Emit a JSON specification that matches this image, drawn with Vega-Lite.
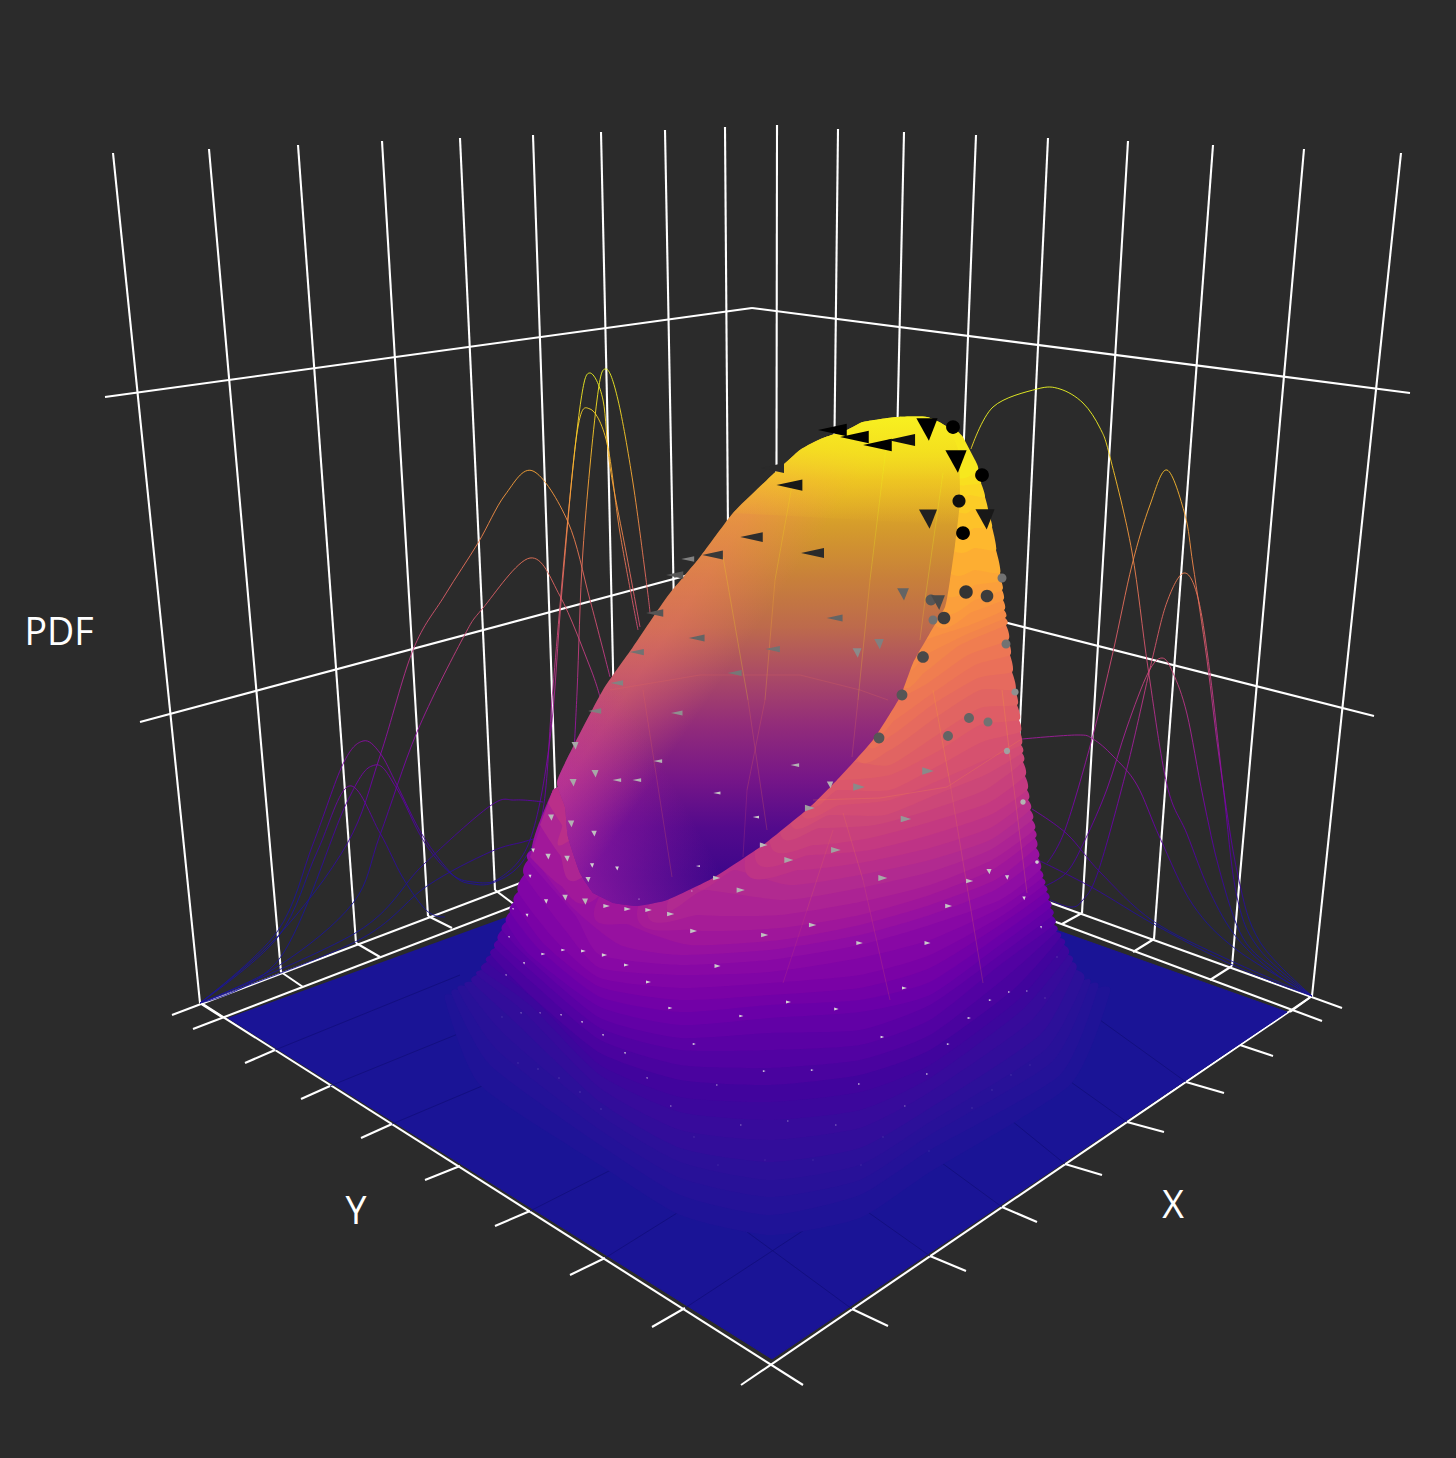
{"$schema":"https://vega.github.io/schema/vega-lite/v6.json","width":1456,"height":1458,"padding":0,"autosize":{"type":"fit","contains":"padding"},"background":"#2b2b2b","config":{"view":{"stroke":null}},
"resolve":{"scale":{"color":"independent"}},
"datasets":{
"grid":[{"x":113,"y":153,"x2":200,"y2":1003},{"x":209,"y":149,"x2":281,"y2":972},{"x":298,"y":145,"x2":356,"y2":943},{"x":382,"y":141,"x2":428,"y2":916},{"x":460,"y":138,"x2":495,"y2":890},{"x":533,"y":135,"x2":558,"y2":868},{"x":601,"y":132,"x2":617,"y2":845},{"x":665,"y":130,"x2":678,"y2":825},{"x":725,"y":127,"x2":730,"y2":805},{"x":777,"y":125,"x2":776,"y2":805},{"x":838,"y":129,"x2":830,"y2":825},{"x":904,"y":132,"x2":888,"y2":845},{"x":976,"y":135,"x2":947,"y2":868},{"x":1048,"y":138,"x2":1012,"y2":889},{"x":1128,"y":141,"x2":1082,"y2":913},{"x":1213,"y":145,"x2":1154,"y2":939},{"x":1304,"y":149,"x2":1232,"y2":966},{"x":1401,"y":153,"x2":1312,"y2":996},{"x":105,"y":397,"x2":752,"y2":308},{"x":752,"y":308,"x2":1410,"y2":393},{"x":140,"y":722,"x2":752,"y2":558},{"x":1374,"y":716,"x2":752,"y2":558},{"x":172,"y":1015,"x2":752,"y2":795},{"x":1342,"y":1008,"x2":752,"y2":795},{"x":193,"y":1029,"x2":760,"y2":812},{"x":1322,"y":1021,"x2":760,"y2":812},{"x":200,"y":1003,"x2":222,"y2":1017},{"x":281,"y":972,"x2":303,"y2":987},{"x":356,"y":943,"x2":380,"y2":957},{"x":428,"y":916,"x2":452,"y2":928},{"x":495,"y":890,"x2":515,"y2":905},{"x":1082,"y":913,"x2":1062,"y2":924},{"x":1154,"y":939,"x2":1133,"y2":952},{"x":1232,"y":966,"x2":1210,"y2":980},{"x":1312,"y":996,"x2":1290,"y2":1012},{"x":201,"y":1003,"x2":803,"y2":1385},{"x":741,"y":1385,"x2":1312,"y2":996},{"x":275,"y":1050,"x2":245,"y2":1063},{"x":330,"y":1086,"x2":301,"y2":1099},{"x":392,"y":1124,"x2":361,"y2":1138},{"x":460,"y":1166,"x2":425,"y2":1180},{"x":530,"y":1211,"x2":495,"y2":1226},{"x":605,"y":1258,"x2":570,"y2":1275},{"x":685,"y":1308,"x2":652,"y2":1327},{"x":852,"y":1309,"x2":888,"y2":1326},{"x":930,"y":1256,"x2":966,"y2":1271},{"x":1002,"y":1207,"x2":1037,"y2":1222},{"x":1065,"y":1164,"x2":1102,"y2":1175},{"x":1127,"y":1122,"x2":1164,"y2":1132},{"x":1186,"y":1082,"x2":1224,"y2":1093},{"x":1240,"y":1045,"x2":1273,"y2":1056}],
"floor":[{"v":0,"x":228,"y":1018},{"v":0,"x":772,"y":1359},{"v":0,"x":1287,"y":1012},{"v":0,"x":760,"y":825}],
"floorlines":[{"x":275,"y":1050,"x2":460,"y2":975},{"x":330,"y":1086,"x2":480,"y2":1025},{"x":392,"y":1124,"x2":520,"y2":1070},{"x":530,"y":1211,"x2":680,"y2":1135},{"x":605,"y":1258,"x2":770,"y2":1155},{"x":685,"y":1308,"x2":850,"y2":1200},{"x":852,"y":1309,"x2":690,"y2":1190},{"x":930,"y":1256,"x2":780,"y2":1150},{"x":1002,"y":1207,"x2":890,"y2":1125},{"x":1127,"y":1122,"x2":1040,"y2":1060},{"x":1186,"y":1082,"x2":1100,"y2":1020},{"x":1065,"y":1164,"x2":980,"y2":1095}],
"D":[{"x":200,"y":1003},{"x":277,"y":937},{"x":347,"y":844},{"x":380,"y":756},{"x":413,"y":650},{"x":445,"y":595},{"x":478,"y":543},{"x":505,"y":495},{"x":533,"y":471},{"x":568,"y":522},{"x":590,"y":600},{"x":610,"y":677}],
"E":[{"x":200,"y":1003},{"x":280,"y":965},{"x":353,"y":903},{"x":380,"y":835},{"x":417,"y":732},{"x":463,"y":638},{"x":483,"y":608},{"x":530,"y":558},{"x":560,"y":596},{"x":590,"y":667},{"x":600,"y":697}],
"A":[{"x":200,"y":1003},{"x":277,"y":932},{"x":313,"y":844},{"x":343,"y":764},{"x":363,"y":741},{"x":380,"y":753},{"x":397,"y":785},{"x":423,"y":836},{"x":453,"y":875},{"x":473,"y":884},{"x":495,"y":882},{"x":523,"y":861},{"x":543,"y":810},{"x":553,"y":687},{"x":568,"y":517},{"x":581,"y":400},{"x":590,"y":373},{"x":603,"y":400},{"x":610,"y":467},{"x":627,"y":557},{"x":640,"y":627}],
"B":[{"x":200,"y":1003},{"x":280,"y":958},{"x":347,"y":802},{"x":375,"y":765},{"x":397,"y":789},{"x":423,"y":840},{"x":450,"y":873},{"x":473,"y":882},{"x":500,"y":878},{"x":530,"y":840},{"x":550,"y":739},{"x":562,"y":590},{"x":577,"y":433},{"x":590,"y":409},{"x":607,"y":443},{"x":620,"y":533},{"x":638,"y":630}],
"C":[{"x":200,"y":1003},{"x":278,"y":937},{"x":317,"y":852},{"x":349,"y":786},{"x":380,"y":833},{"x":403,"y":878},{"x":427,"y":911},{"x":445,"y":917}],
"T":[{"x":572,"y":790},{"x":577,"y":693},{"x":583,"y":550},{"x":597,"y":400},{"x":606,"y":369},{"x":618,"y":400},{"x":633,"y":483},{"x":647,"y":587},{"x":650,"y":613}],
"F":[{"x":200,"y":1003},{"x":357,"y":932},{"x":423,"y":865},{"x":490,"y":806},{"x":515,"y":800},{"x":543,"y":802}],
"G":[{"x":200,"y":1003},{"x":357,"y":941},{"x":427,"y":886},{"x":490,"y":852},{"x":523,"y":842},{"x":537,"y":838}],
"R1":[{"x":971,"y":449},{"x":993,"y":407},{"x":1037,"y":389},{"x":1060,"y":389},{"x":1083,"y":403},{"x":1100,"y":428},{"x":1110,"y":457},{"x":1132,"y":552},{"x":1148,"y":668},{"x":1167,"y":785},{"x":1187,"y":834},{"x":1210,"y":892},{"x":1237,"y":938},{"x":1277,"y":975},{"x":1312,"y":996}],
"R2":[{"x":1047,"y":863},{"x":1065,"y":830},{"x":1092,"y":739},{"x":1113,"y":652},{"x":1132,"y":565},{"x":1150,"y":505},{"x":1167,"y":470},{"x":1185,"y":515},{"x":1193,"y":565},{"x":1207,"y":660},{"x":1220,"y":764},{"x":1238,"y":876},{"x":1260,"y":942},{"x":1312,"y":996}],
"R3":[{"x":1050,"y":900},{"x":1070,"y":907},{"x":1082,"y":901},{"x":1098,"y":872},{"x":1127,"y":768},{"x":1152,"y":660},{"x":1167,"y":602},{"x":1184,"y":573},{"x":1198,"y":598},{"x":1210,"y":673},{"x":1223,"y":785},{"x":1237,"y":897},{"x":1260,"y":950},{"x":1312,"y":996}],
"R4":[{"x":1045,"y":886},{"x":1067,"y":872},{"x":1085,"y":840},{"x":1107,"y":789},{"x":1127,"y":727},{"x":1148,"y":673},{"x":1162,"y":658},{"x":1173,"y":673},{"x":1187,"y":714},{"x":1203,"y":797},{"x":1220,"y":872},{"x":1243,"y":938},{"x":1277,"y":971},{"x":1312,"y":996}],
"R5":[{"x":1022,"y":739},{"x":1077,"y":735},{"x":1093,"y":739},{"x":1113,"y":756},{"x":1137,"y":785},{"x":1160,"y":838},{"x":1193,"y":905},{"x":1237,"y":950},{"x":1312,"y":996}],
"R6":[{"x":1032,"y":809},{"x":1067,"y":834},{"x":1100,"y":872},{"x":1153,"y":921},{"x":1227,"y":959},{"x":1312,"y":996}],
"R7":[{"x":1040,"y":861},{"x":1093,"y":888},{"x":1157,"y":926},{"x":1237,"y":967},{"x":1312,"y":996}],
"bands":[
{"v":0.01,"x":1098,"y":988},{"v":0.01,"x":1110,"y":992},{"v":0.01,"x":1070,"y":1085},{"v":0.01,"x":930,"y":1172},{"v":0.01,"x":860,"y":1218},{"v":0.01,"x":770,"y":1235},{"v":0.01,"x":680,"y":1215},{"v":0.01,"x":600,"y":1165},{"v":0.01,"x":480,"y":1085},{"v":0.01,"x":445,"y":1000},{"v":0.01,"x":452,"y":995},
{"v":0.02,"x":1090,"y":984},{"v":0.02,"x":1098,"y":988},{"v":0.02,"x":1060,"y":1075},{"v":0.02,"x":930,"y":1150},{"v":0.02,"x":860,"y":1195},{"v":0.02,"x":770,"y":1215},{"v":0.02,"x":680,"y":1195},{"v":0.02,"x":600,"y":1145},{"v":0.02,"x":490,"y":1065},{"v":0.02,"x":452,"y":995},{"v":0.02,"x":458,"y":990},
{"v":0.03,"x":1084,"y":980},{"v":0.03,"x":1090,"y":984},{"v":0.03,"x":1052,"y":1062},{"v":0.03,"x":930,"y":1135},{"v":0.03,"x":860,"y":1180},{"v":0.03,"x":770,"y":1197},{"v":0.03,"x":680,"y":1178},{"v":0.03,"x":600,"y":1130},{"v":0.03,"x":497,"y":1050},{"v":0.03,"x":458,"y":990},{"v":0.03,"x":465,"y":986},
{"v":0.04,"x":1076,"y":970},{"v":0.04,"x":1084,"y":980},{"v":0.04,"x":1045,"y":1050},{"v":0.04,"x":930,"y":1122},{"v":0.04,"x":860,"y":1165},{"v":0.04,"x":770,"y":1180},{"v":0.04,"x":680,"y":1162},{"v":0.04,"x":600,"y":1115},{"v":0.04,"x":505,"y":1035},{"v":0.04,"x":465,"y":986},{"v":0.04,"x":472,"y":982},
{"v":0.055,"x":1072,"y":962},{"v":0.055,"x":1076,"y":970},{"v":0.055,"x":1040,"y":1035},{"v":0.055,"x":930,"y":1108},{"v":0.055,"x":860,"y":1148},{"v":0.055,"x":770,"y":1162},{"v":0.055,"x":680,"y":1148},{"v":0.055,"x":600,"y":1102},{"v":0.055,"x":515,"y":1022},{"v":0.055,"x":472,"y":982},{"v":0.055,"x":477,"y":975},
{"v":0.07,"x":1068,"y":955},{"v":0.07,"x":1072,"y":962},{"v":0.07,"x":1030,"y":1022},{"v":0.07,"x":930,"y":1092},{"v":0.07,"x":860,"y":1128},{"v":0.07,"x":770,"y":1140},{"v":0.07,"x":680,"y":1130},{"v":0.07,"x":600,"y":1088},{"v":0.07,"x":522,"y":1010},{"v":0.07,"x":477,"y":975},{"v":0.07,"x":482,"y":970},
{"v":0.085,"x":1064,"y":945},{"v":0.085,"x":1068,"y":955},{"v":0.085,"x":1022,"y":1010},{"v":0.085,"x":930,"y":1078},{"v":0.085,"x":860,"y":1110},{"v":0.085,"x":770,"y":1120},{"v":0.085,"x":680,"y":1112},{"v":0.085,"x":600,"y":1075},{"v":0.085,"x":530,"y":1005},{"v":0.085,"x":482,"y":970},{"v":0.085,"x":487,"y":962},
{"v":0.1,"x":1060,"y":938},{"v":0.1,"x":1064,"y":945},{"v":0.1,"x":1018,"y":1000},{"v":0.1,"x":930,"y":1065},{"v":0.1,"x":860,"y":1092},{"v":0.1,"x":770,"y":1102},{"v":0.1,"x":680,"y":1097},{"v":0.1,"x":600,"y":1065},{"v":0.1,"x":535,"y":1000},{"v":0.1,"x":487,"y":962},{"v":0.1,"x":491,"y":955},
{"v":0.12,"x":1056,"y":932},{"v":0.12,"x":1060,"y":938},{"v":0.12,"x":1013,"y":990},{"v":0.12,"x":930,"y":1050},{"v":0.12,"x":860,"y":1075},{"v":0.12,"x":770,"y":1085},{"v":0.12,"x":680,"y":1080},{"v":0.12,"x":600,"y":1053},{"v":0.12,"x":530,"y":995},{"v":0.12,"x":491,"y":955},{"v":0.12,"x":495,"y":948},
{"v":0.14,"x":1054,"y":925},{"v":0.14,"x":1056,"y":932},{"v":0.14,"x":1005,"y":978},{"v":0.14,"x":930,"y":1035},{"v":0.14,"x":860,"y":1060},{"v":0.14,"x":770,"y":1068},{"v":0.14,"x":680,"y":1065},{"v":0.14,"x":600,"y":1040},{"v":0.14,"x":535,"y":985},{"v":0.14,"x":495,"y":948},{"v":0.14,"x":498,"y":940},
{"v":0.16,"x":1052,"y":916},{"v":0.16,"x":1054,"y":925},{"v":0.16,"x":1000,"y":965},{"v":0.16,"x":930,"y":1020},{"v":0.16,"x":860,"y":1045},{"v":0.16,"x":770,"y":1050},{"v":0.16,"x":680,"y":1050},{"v":0.16,"x":600,"y":1028},{"v":0.16,"x":530,"y":970},{"v":0.16,"x":498,"y":940},{"v":0.16,"x":502,"y":930},
{"v":0.18,"x":1050,"y":908},{"v":0.18,"x":1052,"y":916},{"v":0.18,"x":1000,"y":955},{"v":0.18,"x":930,"y":1005},{"v":0.18,"x":860,"y":1030},{"v":0.18,"x":770,"y":1033},{"v":0.18,"x":680,"y":1038},{"v":0.18,"x":600,"y":1018},{"v":0.18,"x":530,"y":960},{"v":0.18,"x":502,"y":930},{"v":0.18,"x":506,"y":922},
{"v":0.2,"x":1048,"y":900},{"v":0.2,"x":1050,"y":908},{"v":0.2,"x":1000,"y":945},{"v":0.2,"x":930,"y":995},{"v":0.2,"x":860,"y":1012},{"v":0.2,"x":770,"y":1018},{"v":0.2,"x":680,"y":1025},{"v":0.2,"x":600,"y":1007},{"v":0.2,"x":530,"y":955},{"v":0.2,"x":506,"y":922},{"v":0.2,"x":510,"y":912},
{"v":0.22,"x":1046,"y":892},{"v":0.22,"x":1048,"y":900},{"v":0.22,"x":1000,"y":935},{"v":0.22,"x":930,"y":982},{"v":0.22,"x":860,"y":1000},{"v":0.22,"x":770,"y":1005},{"v":0.22,"x":680,"y":1012},{"v":0.22,"x":600,"y":997},{"v":0.22,"x":540,"y":950},{"v":0.22,"x":510,"y":912},{"v":0.22,"x":514,"y":902},
{"v":0.24,"x":1044,"y":885},{"v":0.24,"x":1046,"y":892},{"v":0.24,"x":1000,"y":925},{"v":0.24,"x":930,"y":968},{"v":0.24,"x":860,"y":988},{"v":0.24,"x":770,"y":995},{"v":0.24,"x":680,"y":1000},{"v":0.24,"x":600,"y":987},{"v":0.24,"x":545,"y":945},{"v":0.24,"x":514,"y":902},{"v":0.24,"x":518,"y":892},
{"v":0.26,"x":1042,"y":878},{"v":0.26,"x":1044,"y":885},{"v":0.26,"x":1000,"y":917},{"v":0.26,"x":930,"y":955},{"v":0.26,"x":860,"y":975},{"v":0.26,"x":770,"y":983},{"v":0.26,"x":680,"y":988},{"v":0.26,"x":600,"y":978},{"v":0.26,"x":555,"y":940},{"v":0.26,"x":518,"y":892},{"v":0.26,"x":524,"y":875},
{"v":0.28,"x":1040,"y":870},{"v":0.28,"x":1042,"y":878},{"v":0.28,"x":1000,"y":908},{"v":0.28,"x":930,"y":940},{"v":0.28,"x":860,"y":958},{"v":0.28,"x":770,"y":972},{"v":0.28,"x":680,"y":975},{"v":0.28,"x":600,"y":968},{"v":0.28,"x":565,"y":930},{"v":0.28,"x":524,"y":875},{"v":0.28,"x":528,"y":860},
{"v":0.3,"x":1038,"y":858},{"v":0.3,"x":1040,"y":870},{"v":0.3,"x":1000,"y":900},{"v":0.3,"x":930,"y":925},{"v":0.3,"x":860,"y":945},{"v":0.3,"x":770,"y":960},{"v":0.3,"x":680,"y":965},{"v":0.3,"x":600,"y":955},{"v":0.3,"x":575,"y":915},{"v":0.3,"x":528,"y":860},{"v":0.3,"x":532,"y":850},
{"v":0.32,"x":1036,"y":848},{"v":0.32,"x":1038,"y":858},{"v":0.32,"x":995,"y":890},{"v":0.32,"x":930,"y":915},{"v":0.32,"x":860,"y":935},{"v":0.32,"x":770,"y":950},{"v":0.32,"x":680,"y":955},{"v":0.32,"x":620,"y":945},{"v":0.32,"x":570,"y":905},{"v":0.32,"x":532,"y":850},{"v":0.32,"x":553,"y":790},
{"v":0.34,"x":1035,"y":838},{"v":0.34,"x":1036,"y":848},{"v":0.34,"x":995,"y":880},{"v":0.34,"x":930,"y":905},{"v":0.34,"x":860,"y":925},{"v":0.34,"x":780,"y":940},{"v":0.34,"x":690,"y":945},{"v":0.34,"x":630,"y":925},{"v":0.34,"x":600,"y":895},{"v":0.34,"x":850,"y":500},
{"v":0.345,"x":530,"y":857},{"v":0.345,"x":560,"y":885},{"v":0.345,"x":600,"y":895},{"v":0.345,"x":800,"y":650},{"v":0.345,"x":553,"y":790},
{"v":0.36,"x":1034,"y":830},{"v":0.36,"x":1035,"y":838},{"v":0.36,"x":992,"y":870},{"v":0.36,"x":930,"y":895},{"v":0.36,"x":860,"y":915},{"v":0.36,"x":780,"y":928},{"v":0.36,"x":690,"y":930},{"v":0.36,"x":640,"y":900},{"v":0.36,"x":850,"y":500},
{"v":0.38,"x":1032,"y":820},{"v":0.38,"x":1034,"y":830},{"v":0.38,"x":992,"y":860},{"v":0.38,"x":930,"y":885},{"v":0.38,"x":860,"y":902},{"v":0.38,"x":780,"y":915},{"v":0.38,"x":700,"y":915},{"v":0.38,"x":650,"y":900},{"v":0.38,"x":850,"y":500},
{"v":0.385,"x":540,"y":825},{"v":0.385,"x":560,"y":855},{"v":0.385,"x":585,"y":875},{"v":0.385,"x":800,"y":650},{"v":0.385,"x":553,"y":790},
{"v":0.4,"x":1030,"y":810},{"v":0.4,"x":1032,"y":820},{"v":0.4,"x":990,"y":850},{"v":0.4,"x":930,"y":872},{"v":0.4,"x":860,"y":888},{"v":0.4,"x":785,"y":900},{"v":0.4,"x":705,"y":890},{"v":0.4,"x":670,"y":895},{"v":0.4,"x":850,"y":500},
{"v":0.42,"x":1028,"y":800},{"v":0.42,"x":1030,"y":810},{"v":0.42,"x":990,"y":840},{"v":0.42,"x":930,"y":860},{"v":0.42,"x":860,"y":875},{"v":0.42,"x":790,"y":885},{"v":0.42,"x":735,"y":870},{"v":0.42,"x":700,"y":875},{"v":0.42,"x":850,"y":500},
{"v":0.425,"x":548,"y":803},{"v":0.425,"x":562,"y":825},{"v":0.425,"x":570,"y":840},{"v":0.425,"x":800,"y":650},{"v":0.425,"x":553,"y":790},
{"v":0.44,"x":1027,"y":790},{"v":0.44,"x":1028,"y":800},{"v":0.44,"x":990,"y":828},{"v":0.44,"x":930,"y":848},{"v":0.44,"x":865,"y":862},{"v":0.44,"x":800,"y":870},{"v":0.44,"x":745,"y":860},{"v":0.44,"x":850,"y":500},
{"v":0.46,"x":1025,"y":776},{"v":0.46,"x":1027,"y":790},{"v":0.46,"x":990,"y":815},{"v":0.46,"x":930,"y":835},{"v":0.46,"x":870,"y":850},{"v":0.46,"x":810,"y":855},{"v":0.46,"x":755,"y":850},{"v":0.46,"x":850,"y":500},
{"v":0.48,"x":1023,"y":762},{"v":0.48,"x":1025,"y":776},{"v":0.48,"x":988,"y":803},{"v":0.48,"x":930,"y":822},{"v":0.48,"x":870,"y":838},{"v":0.48,"x":815,"y":845},{"v":0.48,"x":770,"y":835},{"v":0.48,"x":850,"y":500},
{"v":0.5,"x":1022,"y":753},{"v":0.5,"x":1023,"y":762},{"v":0.5,"x":985,"y":790},{"v":0.5,"x":930,"y":810},{"v":0.5,"x":875,"y":825},{"v":0.5,"x":820,"y":828},{"v":0.5,"x":780,"y":825},{"v":0.5,"x":850,"y":500},
{"v":0.52,"x":1021,"y":745},{"v":0.52,"x":1022,"y":753},{"v":0.52,"x":985,"y":775},{"v":0.52,"x":935,"y":795},{"v":0.52,"x":885,"y":815},{"v":0.52,"x":830,"y":815},{"v":0.52,"x":790,"y":815},{"v":0.52,"x":850,"y":500},
{"v":0.54,"x":1020,"y":732},{"v":0.54,"x":1021,"y":745},{"v":0.54,"x":985,"y":760},{"v":0.54,"x":940,"y":780},{"v":0.54,"x":890,"y":800},{"v":0.54,"x":840,"y":805},{"v":0.54,"x":800,"y":805},{"v":0.54,"x":850,"y":500},
{"v":0.56,"x":1019,"y":720},{"v":0.56,"x":1020,"y":732},{"v":0.56,"x":982,"y":742},{"v":0.56,"x":940,"y":765},{"v":0.56,"x":890,"y":790},{"v":0.56,"x":838,"y":790},{"v":0.56,"x":812,"y":795},{"v":0.56,"x":850,"y":500},
{"v":0.58,"x":1017,"y":705},{"v":0.58,"x":1019,"y":720},{"v":0.58,"x":980,"y":725},{"v":0.58,"x":940,"y":750},{"v":0.58,"x":890,"y":775},{"v":0.58,"x":840,"y":780},{"v":0.58,"x":825,"y":775},{"v":0.58,"x":850,"y":500},
{"v":0.6,"x":1015,"y":690},{"v":0.6,"x":1017,"y":705},{"v":0.6,"x":980,"y":708},{"v":0.6,"x":937,"y":735},{"v":0.6,"x":890,"y":765},{"v":0.6,"x":855,"y":762},{"v":0.6,"x":835,"y":765},{"v":0.6,"x":850,"y":500},
{"v":0.62,"x":1012,"y":672},{"v":0.62,"x":1015,"y":690},{"v":0.62,"x":980,"y":690},{"v":0.62,"x":935,"y":718},{"v":0.62,"x":890,"y":750},{"v":0.62,"x":855,"y":752},{"v":0.62,"x":850,"y":500},
{"v":0.64,"x":1010,"y":655},{"v":0.64,"x":1012,"y":672},{"v":0.64,"x":978,"y":678},{"v":0.64,"x":932,"y":705},{"v":0.64,"x":892,"y":735},{"v":0.64,"x":865,"y":738},{"v":0.64,"x":850,"y":500},
{"v":0.66,"x":1008,"y":640},{"v":0.66,"x":1010,"y":655},{"v":0.66,"x":975,"y":665},{"v":0.66,"x":930,"y":695},{"v":0.66,"x":895,"y":720},{"v":0.66,"x":875,"y":725},{"v":0.66,"x":850,"y":500},
{"v":0.68,"x":1006,"y":625},{"v":0.68,"x":1008,"y":640},{"v":0.68,"x":968,"y":655},{"v":0.68,"x":928,"y":683},{"v":0.68,"x":897,"y":700},{"v":0.68,"x":885,"y":710},{"v":0.68,"x":850,"y":500},
{"v":0.7,"x":1005,"y":618},{"v":0.7,"x":1006,"y":625},{"v":0.7,"x":960,"y":645},{"v":0.7,"x":925,"y":672},{"v":0.7,"x":900,"y":682},{"v":0.7,"x":850,"y":500},
{"v":0.72,"x":1004,"y":610},{"v":0.72,"x":1005,"y":618},{"v":0.72,"x":965,"y":635},{"v":0.72,"x":925,"y":655},{"v":0.72,"x":905,"y":665},{"v":0.72,"x":850,"y":500},
{"v":0.74,"x":1003,"y":600},{"v":0.74,"x":1004,"y":610},{"v":0.74,"x":970,"y":625},{"v":0.74,"x":925,"y":640},{"v":0.74,"x":915,"y":650},{"v":0.74,"x":850,"y":500},
{"v":0.76,"x":1002,"y":590},{"v":0.76,"x":1003,"y":600},{"v":0.76,"x":972,"y":612},{"v":0.76,"x":935,"y":625},{"v":0.76,"x":850,"y":500},
{"v":0.78,"x":1001,"y":581},{"v":0.78,"x":1002,"y":590},{"v":0.78,"x":975,"y":600},{"v":0.78,"x":940,"y":612},{"v":0.78,"x":850,"y":500},
{"v":0.8,"x":1000,"y":573},{"v":0.8,"x":1001,"y":581},{"v":0.8,"x":975,"y":585},{"v":0.8,"x":945,"y":595},{"v":0.8,"x":850,"y":500},
{"v":0.82,"x":996,"y":550},{"v":0.82,"x":1000,"y":573},{"v":0.82,"x":975,"y":570},{"v":0.82,"x":948,"y":572},{"v":0.82,"x":850,"y":470},
{"v":0.845,"x":992,"y":527},{"v":0.845,"x":996,"y":550},{"v":0.845,"x":975,"y":548},{"v":0.845,"x":952,"y":550},{"v":0.845,"x":850,"y":470},
{"v":0.87,"x":988,"y":512},{"v":0.87,"x":992,"y":527},{"v":0.87,"x":975,"y":528},{"v":0.87,"x":955,"y":530},{"v":0.87,"x":850,"y":470},
{"v":0.895,"x":985,"y":497},{"v":0.895,"x":988,"y":512},{"v":0.895,"x":972,"y":510},{"v":0.895,"x":958,"y":512},{"v":0.895,"x":850,"y":470},
{"v":0.92,"x":981,"y":483},{"v":0.92,"x":985,"y":497},{"v":0.92,"x":970,"y":495},{"v":0.92,"x":958,"y":495},{"v":0.92,"x":850,"y":470},
{"v":0.94,"x":978,"y":470},{"v":0.94,"x":981,"y":483},{"v":0.94,"x":965,"y":485},{"v":0.94,"x":958,"y":485},{"v":0.94,"x":850,"y":470},
{"v":0.96,"x":975,"y":460},{"v":0.96,"x":978,"y":470},{"v":0.96,"x":958,"y":478},{"v":0.96,"x":900,"y":440},{"v":0.96,"x":950,"y":428},{"v":0.96,"x":963,"y":437}],
"back":[{"x":593,"y":893},{"x":580,"y":873},{"x":568,"y":837},{"x":565,"y":807},{"x":557,"y":782},{"x":573,"y":747},{"x":603,"y":690},{"x":633,"y":647},{"x":667,"y":597},{"x":700,"y":557},{"x":733,"y":513},{"x":767,"y":480},{"x":800,"y":450},{"x":823,"y":438},{"x":847,"y":430},{"x":863,"y":422},{"x":897,"y":417},{"x":927,"y":417},{"x":947,"y":427},{"x":958,"y":450},{"x":960,"y":500},{"x":955,"y":545},{"x":950,"y":580},{"x":945,"y":607},{"x":930,"y":633},{"x":913,"y":663},{"x":900,"y":697},{"x":873,"y":740},{"x":837,"y":780},{"x":810,"y":807},{"x":763,"y":845},{"x":713,"y":878},{"x":667,"y":900},{"x":637,"y":906},{"x":613,"y":903}],
"cap":[{"x":733,"y":513},{"x":767,"y":480},{"x":800,"y":450},{"x":823,"y":438},{"x":847,"y":430},{"x":863,"y":422},{"x":897,"y":417},{"x":927,"y":417},{"x":947,"y":427},{"x":958,"y":450},{"x":960,"y":500},{"x":958,"y":525}],
"mesh":[
{"c":"a","x":793,"y":480,"v":0.95},{"c":"a","x":775,"y":580,"v":0.85},{"c":"a","x":765,"y":700,"v":0.62},{"c":"a","x":747,"y":790,"v":0.5},{"c":"a","x":743,"y":857,"v":0.42},
{"c":"b","x":723,"y":557,"v":0.95},{"c":"b","x":748,"y":700,"v":0.65},{"c":"b","x":767,"y":830,"v":0.42},
{"c":"d","x":887,"y":440,"v":1},{"c":"d","x":870,"y":580,"v":0.9},{"c":"d","x":858,"y":700,"v":0.65},{"c":"d","x":852,"y":757,"v":0.5},
{"c":"e","x":943,"y":473,"v":1},{"c":"e","x":925,"y":600,"v":0.9},{"c":"e","x":920,"y":640,"v":0.8},
{"c":"f","x":610,"y":690,"v":0.62},{"c":"f","x":700,"y":675,"v":0.62},{"c":"f","x":800,"y":675,"v":0.62},{"c":"f","x":860,"y":690,"v":0.62},{"c":"f","x":888,"y":700,"v":0.62},
{"c":"g","x":1020,"y":740,"v":0.72},{"c":"g","x":947,"y":787,"v":0.72},{"c":"g","x":880,"y":798,"v":0.72},{"c":"g","x":813,"y":800,"v":0.72},
{"c":"h","x":933,"y":690,"v":0.8},{"c":"h","x":950,"y":783,"v":0.65},{"c":"h","x":983,"y":983,"v":0.35},
{"c":"i","x":1002,"y":690,"v":0.8},{"c":"i","x":1010,"y":757,"v":0.7},{"c":"i","x":1027,"y":893,"v":0.42},
{"c":"j","x":843,"y":813,"v":0.66},{"c":"j","x":863,"y":880,"v":0.55},{"c":"j","x":890,"y":1000,"v":0.35},
{"c":"k","x":833,"y":830,"v":0.6},{"c":"k","x":807,"y":910,"v":0.48},{"c":"k","x":783,"y":983,"v":0.35},
{"c":"l","x":643,"y":690,"v":0.62},{"c":"l","x":672,"y":877,"v":0.3}],
"cones":[
{"x":773,"y":468,"m":0.8,"k":"l"},{"x":790,"y":485,"m":0.9,"k":"l"},{"x":752,"y":537,"m":0.78,"k":"l"},{"x":713,"y":555,"m":0.72,"k":"l"},{"x":688,"y":559,"m":0.45,"k":"l"},{"x":675,"y":575,"m":0.6,"k":"l"},{"x":655,"y":613,"m":0.6,"k":"l"},{"x":697,"y":638,"m":0.55,"k":"l"},{"x":637,"y":652,"m":0.5,"k":"l"},{"x":773,"y":649,"m":0.5,"k":"l"},{"x":735,"y":673,"m":0.48,"k":"l"},{"x":617,"y":683,"m":0.44,"k":"l"},
{"x":833,"y":430,"m":1,"k":"l"},{"x":855,"y":437,"m":1,"k":"l"},{"x":878,"y":445,"m":1,"k":"l"},{"x":902,"y":440,"m":0.95,"k":"l"},{"x":927,"y":427,"m":1,"k":"d"},{"x":953,"y":427,"m":1,"k":"c"},{"x":956,"y":459,"m":1,"k":"d"},{"x":982,"y":475,"m":1,"k":"c"},{"x":959,"y":501,"m":0.95,"k":"c"},{"x":928,"y":517,"m":0.85,"k":"d"},{"x":985,"y":517,"m":0.9,"k":"d"},{"x":963,"y":533,"m":1,"k":"c"},{"x":813,"y":553,"m":0.8,"k":"l"},{"x":903,"y":593,"m":0.55,"k":"d"},{"x":1002,"y":578,"m":0.5,"k":"b"},{"x":931,"y":600,"m":0.6,"k":"b"},{"x":938,"y":601,"m":0.65,"k":"d"},{"x":966,"y":592,"m":0.75,"k":"b"},{"x":987,"y":596,"m":0.7,"k":"b"},{"x":835,"y":618,"m":0.55,"k":"l"},{"x":879,"y":643,"m":0.45,"k":"d"},{"x":933,"y":620,"m":0.5,"k":"b"},{"x":944,"y":618,"m":0.7,"k":"b"},{"x":857,"y":652,"m":0.42,"k":"d"},{"x":923,"y":657,"m":0.65,"k":"b"},{"x":1006,"y":644,"m":0.5,"k":"b"},{"x":902,"y":695,"m":0.6,"k":"b"},{"x":1015,"y":692,"m":0.4,"k":"b"},
{"x":595,"y":711,"m":0.45,"k":"l"},{"x":677,"y":713,"m":0.4,"k":"l"},{"x":575,"y":745,"m":0.33,"k":"d"},{"x":658,"y":761,"m":0.3,"k":"l"},{"x":595,"y":773,"m":0.33,"k":"d"},{"x":573,"y":782,"m":0.33,"k":"d"},{"x":617,"y":780,"m":0.3,"k":"l"},{"x":637,"y":780,"m":0.3,"k":"l"},{"x":795,"y":765,"m":0.3,"k":"l"},{"x":717,"y":793,"m":0.25,"k":"l"},{"x":551,"y":817,"m":0.28,"k":"d"},{"x":571,"y":823,"m":0.3,"k":"d"},{"x":594,"y":833,"m":0.26,"k":"d"},{"x":756,"y":817,"m":0.22,"k":"l"},{"x":533,"y":850,"m":0.18,"k":"d"},{"x":548,"y":856,"m":0.25,"k":"d"},{"x":567,"y":858,"m":0.26,"k":"d"},{"x":592,"y":865,"m":0.2,"k":"d"},{"x":617,"y":868,"m":0.18,"k":"d"},{"x":763,"y":845,"m":0.28,"k":"r"},{"x":788,"y":860,"m":0.33,"k":"r"},{"x":698,"y":866,"m":0.14,"k":"l"},{"x":530,"y":876,"m":0.14,"k":"d"},{"x":588,"y":879,"m":0.24,"k":"d"},{"x":716,"y":878,"m":0.26,"k":"r"},{"x":740,"y":890,"m":0.3,"k":"r"},{"x":692,"y":891,"m":0.06,"k":"r"},{"x":546,"y":901,"m":0.2,"k":"d"},{"x":565,"y":897,"m":0.26,"k":"d"},{"x":585,"y":901,"m":0.28,"k":"d"},{"x":606,"y":906,"m":0.24,"k":"r"},{"x":627,"y":909,"m":0.24,"k":"r"},{"x":648,"y":910,"m":0.24,"k":"r"},{"x":639,"y":899,"m":0.08,"k":"c"},{"x":670,"y":914,"m":0.26,"k":"r"},{"x":693,"y":931,"m":0.25,"k":"r"},{"x":764,"y":935,"m":0.26,"k":"r"},{"x":513,"y":909,"m":0.08,"k":"d"},{"x":527,"y":915,"m":0.14,"k":"d"},{"x":509,"y":937,"m":0.08,"k":"d"},{"x":543,"y":954,"m":0.15,"k":"r"},{"x":563,"y":950,"m":0.15,"k":"r"},{"x":583,"y":951,"m":0.17,"k":"r"},{"x":604,"y":955,"m":0.19,"k":"r"},{"x":626,"y":965,"m":0.18,"k":"r"},{"x":717,"y":966,"m":0.22,"k":"r"},{"x":524,"y":963,"m":0.1,"k":"d"},{"x":506,"y":975,"m":0.07,"k":"d"},{"x":648,"y":982,"m":0.18,"k":"r"},{"x":788,"y":1002,"m":0.18,"k":"r"},{"x":670,"y":1008,"m":0.15,"k":"r"},
{"x":969,"y":718,"m":0.55,"k":"b"},{"x":988,"y":722,"m":0.5,"k":"b"},{"x":879,"y":738,"m":0.6,"k":"b"},{"x":948,"y":736,"m":0.55,"k":"b"},{"x":1007,"y":751,"m":0.35,"k":"b"},{"x":927,"y":771,"m":0.42,"k":"r"},{"x":858,"y":787,"m":0.42,"k":"r"},{"x":830,"y":784,"m":0.3,"k":"d"},{"x":809,"y":808,"m":0.36,"k":"r"},{"x":1023,"y":802,"m":0.3,"k":"b"},{"x":905,"y":819,"m":0.38,"k":"r"},{"x":835,"y":850,"m":0.35,"k":"r"},{"x":882,"y":878,"m":0.33,"k":"r"},{"x":969,"y":881,"m":0.26,"k":"r"},{"x":989,"y":871,"m":0.24,"k":"d"},{"x":1007,"y":877,"m":0.2,"k":"d"},{"x":1037,"y":862,"m":0.2,"k":"b"},{"x":948,"y":906,"m":0.25,"k":"r"},{"x":1024,"y":898,"m":0.16,"k":"d"},{"x":812,"y":925,"m":0.27,"k":"r"},{"x":859,"y":943,"m":0.24,"k":"r"},{"x":927,"y":943,"m":0.22,"k":"r"},{"x":1041,"y":927,"m":0.1,"k":"d"},{"x":904,"y":988,"m":0.18,"k":"r"},{"x":1009,"y":992,"m":0.09,"k":"r"},{"x":1027,"y":991,"m":0.07,"k":"r"},{"x":990,"y":1000,"m":0.1,"k":"r"},{"x":1057,"y":957,"m":0.05,"k":"c"},{"x":836,"y":1009,"m":0.16,"k":"r"},
{"x":741,"y":1016,"m":0.15,"k":"r"},{"x":882,"y":1037,"m":0.13,"k":"r"},{"x":969,"y":1018,"m":0.12,"k":"r"},{"x":1045,"y":998,"m":0.05,"k":"c"},{"x":582,"y":1022,"m":0.09,"k":"d"},{"x":603,"y":1035,"m":0.09,"k":"d"},{"x":561,"y":1015,"m":0.08,"k":"d"},{"x":540,"y":1013,"m":0.06,"k":"d"},{"x":521,"y":1013,"m":0.05,"k":"d"},{"x":502,"y":1017,"m":0.04,"k":"c"},{"x":625,"y":1053,"m":0.09,"k":"d"},{"x":694,"y":1044,"m":0.11,"k":"r"},{"x":764,"y":1071,"m":0.1,"k":"r"},{"x":812,"y":1070,"m":0.1,"k":"r"},{"x":948,"y":1044,"m":0.1,"k":"r"},{"x":927,"y":1074,"m":0.08,"k":"r"},{"x":859,"y":1084,"m":0.08,"k":"r"},{"x":717,"y":1085,"m":0.07,"k":"r"},{"x":647,"y":1078,"m":0.07,"k":"d"},{"x":559,"y":1078,"m":0.05,"k":"c"},{"x":538,"y":1069,"m":0.05,"k":"c"},{"x":518,"y":1063,"m":0.04,"k":"c"},{"x":580,"y":1092,"m":0.05,"k":"c"},{"x":601,"y":1109,"m":0.05,"k":"c"},{"x":671,"y":1106,"m":0.06,"k":"r"},{"x":741,"y":1125,"m":0.05,"k":"r"},{"x":788,"y":1121,"m":0.05,"k":"r"},{"x":836,"y":1125,"m":0.05,"k":"r"},{"x":905,"y":1106,"m":0.05,"k":"r"},{"x":972,"y":1108,"m":0.04,"k":"c"},{"x":992,"y":1090,"m":0.04,"k":"c"},{"x":1011,"y":1075,"m":0.04,"k":"c"},{"x":1030,"y":1065,"m":0.03,"k":"c"},{"x":883,"y":1137,"m":0.04,"k":"c"},{"x":694,"y":1137,"m":0.04,"k":"c"},{"x":765,"y":1160,"m":0.03,"k":"c"},{"x":813,"y":1160,"m":0.03,"k":"c"},{"x":718,"y":1165,"m":0.03,"k":"c"},{"x":861,"y":1165,"m":0.03,"k":"c"},{"x":929,"y":1151,"m":0.03,"k":"c"}],
"labels":[{"t":"PDF","x":59,"y":634},{"t":"Y","x":356,"y":1213},{"t":"X","x":1173,"y":1207}]
},
"encoding":{"x":{"field":"x","type":"quantitative","axis":null,"scale":{"domain":[0,1456],"nice":false,"zero":false}},"y":{"field":"y","type":"quantitative","axis":null,"scale":{"domain":[1458,0],"nice":false,"zero":false}}},
"layer":[
{"data":{"name":"grid"},"mark":{"type":"rule","color":"#ffffff","strokeWidth":2.1},"encoding":{"x2":{"field":"x2"},"y2":{"field":"y2"}}},
{"data":{"name":"D"},"mark":{"type":"line","order":null,"interpolate":"cardinal","strokeWidth":1,"opacity":0.9,"stroke":{"gradient":"linear","x1":0,"y1":0,"x2":0,"y2":1,"stops":[{"offset":0,"color":"#fca636"},{"offset":0.117,"color":"#f2844b"},{"offset":0.212,"color":"#e16462"},{"offset":0.308,"color":"#cc4778"},{"offset":0.404,"color":"#b12a90"},{"offset":0.5,"color":"#8f0da4"},{"offset":0.596,"color":"#6a00a8"},{"offset":0.692,"color":"#41049d"},{"offset":0.788,"color":"#1a1496"},{"offset":1,"color":"#1a1496"}]}}},
{"data":{"name":"E"},"mark":{"type":"line","order":null,"interpolate":"cardinal","strokeWidth":1,"opacity":0.9,"stroke":{"gradient":"linear","x1":0,"y1":0,"x2":0,"y2":1,"stops":[{"offset":0,"color":"#e97458"},{"offset":0.058,"color":"#e16462"},{"offset":0.173,"color":"#cc4778"},{"offset":0.288,"color":"#b12a90"},{"offset":0.402,"color":"#8f0da4"},{"offset":0.517,"color":"#6a00a8"},{"offset":0.631,"color":"#41049d"},{"offset":0.746,"color":"#1a1496"},{"offset":1,"color":"#1a1496"}]}}},
{"data":{"name":"A"},"mark":{"type":"line","order":null,"interpolate":"cardinal","strokeWidth":1,"opacity":0.9,"stroke":{"gradient":"linear","x1":0,"y1":0,"x2":0,"y2":1,"stops":[{"offset":0,"color":"#f0f921"},{"offset":0.092,"color":"#fcce25"},{"offset":0.173,"color":"#fca636"},{"offset":0.254,"color":"#f2844b"},{"offset":0.335,"color":"#e16462"},{"offset":0.416,"color":"#cc4778"},{"offset":0.497,"color":"#b12a90"},{"offset":0.578,"color":"#8f0da4"},{"offset":0.659,"color":"#6a00a8"},{"offset":0.74,"color":"#41049d"},{"offset":0.821,"color":"#1a1496"},{"offset":1,"color":"#1a1496"}]}}},
{"data":{"name":"B"},"mark":{"type":"line","order":null,"interpolate":"cardinal","strokeWidth":1,"opacity":0.9,"stroke":{"gradient":"linear","x1":0,"y1":0,"x2":0,"y2":1,"stops":[{"offset":0,"color":"#fcd925"},{"offset":0.037,"color":"#fcce25"},{"offset":0.123,"color":"#fca636"},{"offset":0.209,"color":"#f2844b"},{"offset":0.295,"color":"#e16462"},{"offset":0.38,"color":"#cc4778"},{"offset":0.466,"color":"#b12a90"},{"offset":0.552,"color":"#8f0da4"},{"offset":0.638,"color":"#6a00a8"},{"offset":0.724,"color":"#41049d"},{"offset":0.81,"color":"#1a1496"},{"offset":1,"color":"#1a1496"}]}}},
{"data":{"name":"C"},"mark":{"type":"line","order":null,"interpolate":"cardinal","strokeWidth":1,"opacity":0.9,"stroke":{"gradient":"linear","x1":0,"y1":0,"x2":0,"y2":1,"stops":[{"offset":0,"color":"#7a06a6"},{"offset":0.244,"color":"#41049d"},{"offset":0.479,"color":"#1a1496"},{"offset":1,"color":"#1a1496"}]}}},
{"data":{"name":"T"},"mark":{"type":"line","order":null,"interpolate":"cardinal","strokeWidth":1,"opacity":0.9,"stroke":{"gradient":"linear","x1":0,"y1":0,"x2":0,"y2":1,"stops":[{"offset":0,"color":"#f0f921"},{"offset":0.147,"color":"#fcce25"},{"offset":0.268,"color":"#fca636"},{"offset":0.39,"color":"#f2844b"},{"offset":0.511,"color":"#e16462"},{"offset":0.632,"color":"#cc4778"},{"offset":0.753,"color":"#b12a90"},{"offset":0.874,"color":"#8f0da4"},{"offset":1,"color":"#6a00a8"}]}}},
{"data":{"name":"F"},"mark":{"type":"line","order":null,"interpolate":"cardinal","strokeWidth":1,"opacity":0.9,"stroke":{"gradient":"linear","x1":0,"y1":0,"x2":0,"y2":1,"stops":[{"offset":0,"color":"#5f02a6"},{"offset":0.192,"color":"#41049d"},{"offset":0.44,"color":"#1a1496"},{"offset":1,"color":"#1a1496"}]}}},
{"data":{"name":"G"},"mark":{"type":"line","order":null,"interpolate":"cardinal","strokeWidth":1,"opacity":0.9,"stroke":{"gradient":"linear","x1":0,"y1":0,"x2":0,"y2":1,"stops":[{"offset":0,"color":"#41049d"},{"offset":0.315,"color":"#1a1496"},{"offset":1,"color":"#1a1496"}]}}},
{"data":{"name":"R1"},"mark":{"type":"line","order":null,"interpolate":"cardinal","strokeWidth":1,"opacity":0.9,"stroke":{"gradient":"linear","x1":0,"y1":0,"x2":0,"y2":1,"stops":[{"offset":0,"color":"#f0f921"},{"offset":0.043,"color":"#f0f921"},{"offset":0.127,"color":"#fcce25"},{"offset":0.211,"color":"#fca636"},{"offset":0.295,"color":"#f2844b"},{"offset":0.379,"color":"#e16462"},{"offset":0.463,"color":"#cc4778"},{"offset":0.547,"color":"#b12a90"},{"offset":0.631,"color":"#8f0da4"},{"offset":0.715,"color":"#6a00a8"},{"offset":0.799,"color":"#41049d"},{"offset":0.883,"color":"#1a1496"},{"offset":1,"color":"#1a1496"}]}}},
{"data":{"name":"R2"},"mark":{"type":"line","order":null,"interpolate":"cardinal","strokeWidth":1,"opacity":0.9,"stroke":{"gradient":"linear","x1":0,"y1":0,"x2":0,"y2":1,"stops":[{"offset":0,"color":"#fcc22a"},{"offset":0.089,"color":"#fca636"},{"offset":0.186,"color":"#f2844b"},{"offset":0.283,"color":"#e16462"},{"offset":0.38,"color":"#cc4778"},{"offset":0.477,"color":"#b12a90"},{"offset":0.574,"color":"#8f0da4"},{"offset":0.671,"color":"#6a00a8"},{"offset":0.768,"color":"#41049d"},{"offset":0.865,"color":"#1a1496"},{"offset":1,"color":"#1a1496"}]}}},
{"data":{"name":"R3"},"mark":{"type":"line","order":null,"interpolate":"cardinal","strokeWidth":1,"opacity":0.9,"stroke":{"gradient":"linear","x1":0,"y1":0,"x2":0,"y2":1,"stops":[{"offset":0,"color":"#f0804e"},{"offset":0.109,"color":"#e16462"},{"offset":0.229,"color":"#cc4778"},{"offset":0.35,"color":"#b12a90"},{"offset":0.47,"color":"#8f0da4"},{"offset":0.591,"color":"#6a00a8"},{"offset":0.712,"color":"#41049d"},{"offset":0.832,"color":"#1a1496"},{"offset":1,"color":"#1a1496"}]}}},
{"data":{"name":"R4"},"mark":{"type":"line","order":null,"interpolate":"cardinal","strokeWidth":1,"opacity":0.9,"stroke":{"gradient":"linear","x1":0,"y1":0,"x2":0,"y2":1,"stops":[{"offset":0,"color":"#d04c76"},{"offset":0.036,"color":"#cc4778"},{"offset":0.186,"color":"#b12a90"},{"offset":0.337,"color":"#8f0da4"},{"offset":0.488,"color":"#6a00a8"},{"offset":0.639,"color":"#41049d"},{"offset":0.79,"color":"#1a1496"},{"offset":1,"color":"#1a1496"}]}}},
{"data":{"name":"R5"},"mark":{"type":"line","order":null,"interpolate":"cardinal","strokeWidth":1,"opacity":0.9,"stroke":{"gradient":"linear","x1":0,"y1":0,"x2":0,"y2":1,"stops":[{"offset":0,"color":"#a01c9a"},{"offset":0.142,"color":"#8f0da4"},{"offset":0.337,"color":"#6a00a8"},{"offset":0.533,"color":"#41049d"},{"offset":0.728,"color":"#1a1496"},{"offset":1,"color":"#1a1496"}]}}},
{"data":{"name":"R6"},"mark":{"type":"line","order":null,"interpolate":"cardinal","strokeWidth":1,"opacity":0.9,"stroke":{"gradient":"linear","x1":0,"y1":0,"x2":0,"y2":1,"stops":[{"offset":0,"color":"#7a06a6"},{"offset":0.075,"color":"#6a00a8"},{"offset":0.348,"color":"#41049d"},{"offset":0.62,"color":"#1a1496"},{"offset":1,"color":"#1a1496"}]}}},
{"data":{"name":"R7"},"mark":{"type":"line","order":null,"interpolate":"cardinal","strokeWidth":1,"opacity":0.9,"stroke":{"gradient":"linear","x1":0,"y1":0,"x2":0,"y2":1,"stops":[{"offset":0,"color":"#4c03a0"},{"offset":0.096,"color":"#41049d"},{"offset":0.474,"color":"#1a1496"},{"offset":1,"color":"#1a1496"}]}}},
{"data":{"name":"floor"},"mark":{"type":"line","order":null,"fill":"#1a1496","stroke":"#1a1496","strokeWidth":1},"encoding":{"detail":{"field":"v"}}},
{"data":{"name":"floorlines"},"mark":{"type":"rule","color":"#120e7c","strokeWidth":1,"opacity":0.8},"encoding":{"x2":{"field":"x2"},"y2":{"field":"y2"}}},
{"data":{"name":"bands"},"mark":{"type":"line","order":null,"interpolate":"cardinal","tension":0.4,"strokeWidth":0},"encoding":{"detail":{"field":"v"},"fill":{"field":"v","type":"quantitative","legend":null,"scale":{"domain":[0,0.1,0.2,0.3,0.4,0.5,0.6,0.7,0.8,0.9,1],"range":["#1a1496","#41049d","#6a00a8","#8f0da4","#b12a90","#cc4778","#e16462","#f2844b","#fca636","#fcce25","#f0f921"]}}}},
{"data":{"name":"back"},"mark":{"type":"line","order":null,"interpolate":"cardinal","tension":0.5,"strokeWidth":0,"fill":{"gradient":"linear","x1":0,"y1":0,"x2":0,"y2":1,"stops":[{"offset":0,"color":"#f8f020"},{"offset":0.07,"color":"#f0e020"},{"offset":0.13,"color":"#e8b822"},{"offset":0.23,"color":"#d49a2c"},{"offset":0.33,"color":"#c8803a"},{"offset":0.43,"color":"#bd6a4c"},{"offset":0.53,"color":"#aa4a66"},{"offset":0.63,"color":"#922c7a"},{"offset":0.74,"color":"#761688"},{"offset":0.84,"color":"#530a8c"},{"offset":0.94,"color":"#3d068a"},{"offset":1,"color":"#38058a"}]}}},
{"data":{"name":"back"},"mark":{"type":"line","order":null,"interpolate":"cardinal","tension":0.5,"strokeWidth":0,"fill":{"gradient":"linear","x1":0.3,"y1":0.41,"x2":0.665,"y2":0.71,"stops":[{"offset":0,"color":"rgba(255,120,110,0.36)"},{"offset":0.35,"color":"rgba(255,120,110,0)"},{"offset":1,"color":"rgba(255,120,110,0)"}]}}},
{"data":{"name":"back"},"mark":{"type":"line","order":null,"interpolate":"cardinal","tension":0.5,"strokeWidth":0,"fill":{"gradient":"linear","x1":0,"y1":1,"x2":0.45,"y2":0.7,"stops":[{"offset":0,"color":"rgba(210,40,180,0.6)"},{"offset":0.7,"color":"rgba(210,40,180,0)"},{"offset":1,"color":"rgba(210,40,180,0)"}]}}},
{"data":{"name":"cap"},"mark":{"type":"line","order":null,"interpolate":"cardinal","tension":0.5,"strokeWidth":0,"fill":{"gradient":"linear","x1":0,"y1":0,"x2":0,"y2":1,"stops":[{"offset":0,"color":"rgba(248,240,32,1)"},{"offset":0.3,"color":"rgba(245,225,30,0.85)"},{"offset":1,"color":"rgba(240,190,40,0)"}]}}},
{"data":{"name":"mesh"},"transform":[{"window":[{"op":"lead","field":"x","as":"x2"},{"op":"lead","field":"y","as":"y2"}],"groupby":["c"]},{"filter":"datum.x2 != null"}],"mark":{"type":"rule","strokeWidth":0.8,"opacity":0.3},"encoding":{"x2":{"field":"x2"},"y2":{"field":"y2"},"color":{"field":"v","type":"quantitative","legend":null,"scale":{"domain":[0,0.1,0.2,0.3,0.4,0.5,0.6,0.7,0.8,0.9,1],"range":["#1a1496","#41049d","#6a00a8","#8f0da4","#b12a90","#cc4778","#e16462","#f2844b","#fca636","#fcce25","#f0f921"]}}}},
{"data":{"name":"cones"},"mark":{"type":"point","filled":true,"opacity":1},"encoding":{"shape":{"field":"k","type":"nominal","legend":null,"scale":{"domain":["l","r","d","c","b"],"range":["M-1.2,0L1.1,-0.5L1.1,0.5Z","M1.3,0L-0.9,-0.7L-0.9,0.7Z","M0.15,1.1L-0.85,-0.7L0.85,-0.7Z","M-0.55,0A0.55,0.55 0 1,1 0.55,0A0.55,0.55 0 1,1 -0.55,0Z","M-0.72,0A0.72,0.72 0 1,1 0.72,0A0.72,0.72 0 1,1 -0.72,0Z"]}},"size":{"field":"m","type":"quantitative","legend":null,"scale":{"type":"pow","exponent":2,"domain":[0,1],"range":[0,625]}},"color":{"field":"m","type":"quantitative","legend":null,"scale":{"domain":[0,0.25,0.45,0.7,1],"range":["#ffffff","#c4c4c4","#808080","#3c3c3c","#000000"]}}}},
{"data":{"name":"labels"},"mark":{"type":"text","font":"Open Sans","fontSize":37.5,"color":"#ffffff","align":"center","baseline":"middle"},"encoding":{"text":{"field":"t"}}}
]}
